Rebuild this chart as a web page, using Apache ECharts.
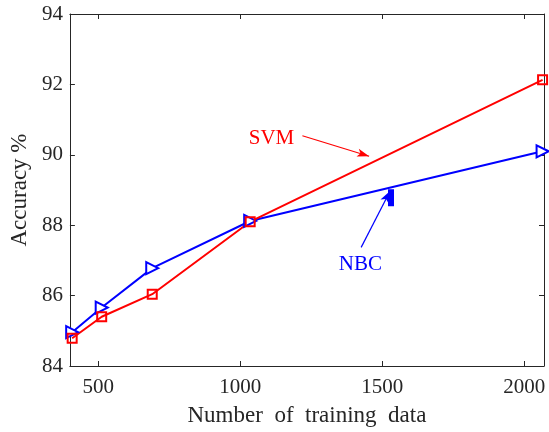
<!DOCTYPE html>
<html><head><meta charset="utf-8">
<script src="https://cdn.jsdelivr.net/npm/echarts@6/dist/echarts.min.js"></script>
<style>html,body{margin:0;padding:0;background:#fff}#c{width:549px;height:432px}</style>
</head><body><div id="c"></div>
<script>
const xTicks = [500, 1000, 1500, 2000];
const yTicks = [84, 86, 88, 90, 92, 94];
const svmX = [408, 512, 690, 1035, 2065];
const svmY = [84.79, 85.40, 86.04, 88.10, 92.13];
const nbcX = [408, 512, 690, 1035, 2065];
const nbcY = [84.96, 85.66, 86.78, 88.12, 90.10];
const svmArrow = [[1219, 90.54], [1454, 89.96]];
const svmText = [1110, 90.46];
const nbcArrow = [[1426, 87.37], [1528, 88.97]];
const nbcHead = [1531, 88.78];
const nbcText = [1423, 86.89];

const font = '"Liberation Serif","DejaVu Serif",serif';
const axisCol = '#262626';
const chart = echarts.init(document.getElementById('c'), null, {renderer: 'canvas'});
const xAxisBase = {
  type: 'value', min: 400, max: 2070,
  axisLine: {show: true, onZero: false, lineStyle: {color: axisCol, width: 1}},
  splitLine: {show: false},
  axisTick: {show: true, inside: true, length: 5, customValues: xTicks, lineStyle: {color: axisCol}},
};
const yAxisBase = {
  type: 'value', min: 84, max: 94, interval: 2,
  axisLine: {show: true, onZero: false, lineStyle: {color: axisCol, width: 1}},
  splitLine: {show: false},
  axisTick: {show: true, inside: true, length: 5, lineStyle: {color: axisCol}},
};
chart.setOption({
  animation: false,
  grid: {left: 66.7, right: 5, top: 14, bottom: 62, containLabel: false},
  xAxis: [
    Object.assign({}, xAxisBase, {
      position: 'bottom',
      axisLabel: {customValues: xTicks, formatter: v => String(v), color: axisCol, fontFamily: font, fontSize: 21, margin: 11},
      name: 'Number  of  training  data', nameLocation: 'middle', nameGap: 38,
      nameTextStyle: {color: axisCol, fontFamily: font, fontSize: 23}
    }),
    Object.assign({}, xAxisBase, {position: 'top', axisLabel: {show: false}})
  ],
  yAxis: [
    Object.assign({}, yAxisBase, {
      position: 'left',
      axisLabel: {color: axisCol, fontFamily: font, fontSize: 21, margin: 7},
      name: 'Accuracy %', nameLocation: 'middle', nameGap: 32,
      nameTextStyle: {color: axisCol, fontFamily: font, fontSize: 23}
    }),
    Object.assign({}, yAxisBase, {position: 'right', axisLabel: {show: false}})
  ],
  series: [
    {
      type: 'line', name: 'NBC', clip: false,
      data: nbcX.map((x, i) => [x, nbcY[i]]),
      lineStyle: {color: '#0000ff', width: 2},
      itemStyle: {color: '#ffffff', borderColor: '#0000ff', borderWidth: 2},
      symbol: 'triangle', symbolSize: [12, 12], symbolRotate: -90,
      markLine: {
        silent: true, symbol: ['none', 'arrow'], symbolSize: [7, 12],
        lineStyle: {color: '#0000ff', width: 1.2, type: 'solid'},
        label: {show: false},
        data: [[{coord: nbcArrow[0]}, {coord: nbcArrow[1]}]]
      },
      markPoint: {
        silent: true,
        data: [
          {coord: nbcText, symbol: 'circle', symbolSize: 1, itemStyle: {color: 'rgba(0,0,0,0)'},
           label: {show: true, position: 'inside', color: '#0000ff', fontFamily: font, fontSize: 21, formatter: 'NBC'}},
          {coord: nbcHead, symbol: 'rect', symbolSize: [6, 17], itemStyle: {color: '#0000ff'}, label: {show: false}}
        ]
      }
    },
    {
      type: 'line', name: 'SVM', clip: false,
      data: svmX.map((x, i) => [x, svmY[i]]),
      lineStyle: {color: '#ff0000', width: 2},
      itemStyle: {color: 'rgba(255,255,255,0)', borderColor: '#ff0000', borderWidth: 2},
      symbol: 'rect', symbolSize: 9,
      markLine: {
        silent: true, symbol: ['none', 'arrow'], symbolSize: [6, 12],
        lineStyle: {color: '#ff0000', width: 1.2, type: 'solid'},
        label: {show: false},
        data: [[{coord: svmArrow[0]}, {coord: svmArrow[1]}]]
      },
      markPoint: {
        silent: true, symbol: 'circle', symbolSize: 1, itemStyle: {color: 'rgba(0,0,0,0)'},
        label: {show: true, position: 'inside', color: '#ff0000', fontFamily: font, fontSize: 21, formatter: 'SVM'},
        data: [{coord: svmText}]
      }
    }
  ]
});
</script></body></html>
